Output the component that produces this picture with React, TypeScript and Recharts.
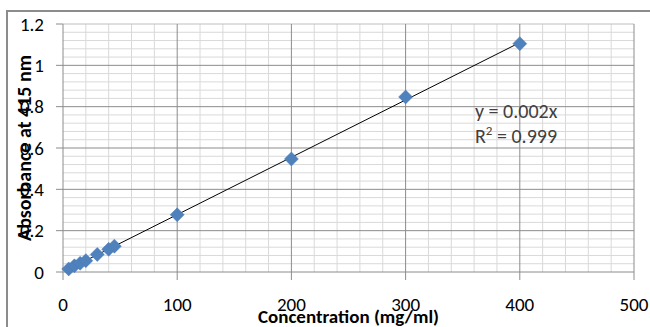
import React from "react";
import {
  ScatterChart,
  Scatter,
  XAxis,
  YAxis,
  ReferenceLine,
} from "recharts";

// calibration points
const concentration = [5, 10, 15, 20, 30, 40, 45, 100, 200, 300, 400];
const absorbance = [0.015, 0.03, 0.042, 0.055, 0.085, 0.11, 0.125, 0.277, 0.547, 0.847, 1.105];

// linear trendline end points
const trendX = [5, 400];
const trendY = [0.014, 1.11];

const xTicks = [0, 100, 200, 300, 400, 500];
const yTicks = [0, 0.2, 0.4, 0.6, 0.8, 1, 1.2];
const xMinor = [20, 40, 60, 80, 120, 140, 160, 180, 220, 240, 260, 280, 320, 340, 360, 380, 420, 440, 460, 480];
const yMinor = [
  0.04, 0.08, 0.12, 0.16, 0.24, 0.28, 0.32, 0.36, 0.44, 0.48, 0.52, 0.56, 0.64, 0.68, 0.72, 0.76,
  0.84, 0.88, 0.92, 0.96, 1.04, 1.08, 1.12, 1.16,
];
const xMajorGrid = [100, 200, 300, 400, 500];
const yMajorGrid = [0.2, 0.4, 0.6, 0.8, 1];

const points = concentration.map((x, i) => ({ x, y: absorbance[i] }));
const trend = trendX.map((x, i) => ({ x, y: trendY[i] }));

const FONT = "Carlito, Calibri, 'Liberation Sans', Arial, sans-serif";
const MINOR = "#d9d9d9";
const MAJOR = "#8c8c8c";

const Diamond = (props: any) => {
  const { cx, cy } = props;
  if (cx == null || cy == null) return null;
  const r = 7;
  return (
    <polygon
      points={`${cx},${cy - r} ${cx + r},${cy} ${cx},${cy + r} ${cx - r},${cy}`}
      fill="#4f81bd"
      stroke="#4a7ab5"
      strokeWidth={0.5}
    />
  );
};

const fmt = (v: number) => String(Math.round(v * 10) / 10);

export default function App() {
  return (
    <div style={{ position: "absolute", left: 0, top: 0, width: 650, height: 327, background: "#fff" }}>
      <div
        style={{
          position: "absolute",
          left: 6,
          top: 10,
          width: 650,
          height: 330,
          borderLeft: `2px solid ${MAJOR}`,
          borderTop: `2px solid ${MAJOR}`,
        }}
      />
      <ScatterChart
        width={650}
        height={327}
        margin={{ top: 24, right: 16, bottom: 0, left: 0 }}
        style={{ position: "absolute", left: 0, top: 0 }}
      >
        <XAxis
          type="number"
          dataKey="x"
          domain={[0, 500]}
          ticks={xTicks}
          interval={0}
          height={55}
          stroke={MAJOR}
          tickSize={8}
          tickMargin={18}
          tick={{ fill: "#000", fontSize: 19, fontFamily: FONT }}
          label={{
            value: "Concentration (mg/ml)",
            position: "insideBottom",
            offset: 4,
            style: { fill: "#000", fontSize: 19, fontWeight: 700, fontFamily: FONT },
          }}
        />
        <YAxis
          type="number"
          dataKey="y"
          domain={[0, 1.2]}
          ticks={yTicks}
          interval={0}
          width={63}
          stroke={MAJOR}
          tickSize={7}
          tickMargin={12}
          tickFormatter={fmt}
          tick={{ fill: "#000", fontSize: 19, fontFamily: FONT }}
          label={{
            value: "Absorbance at 415 nm",
            angle: -90,
            position: "insideLeft",
            offset: 24,
            style: { fill: "#000", fontSize: 20, fontWeight: 700, fontFamily: FONT, textAnchor: "middle" },
          }}
        />
        {xMinor.map((v) => (
          <ReferenceLine key={`xm${v}`} x={v} stroke={MINOR} />
        ))}
        {yMinor.map((v) => (
          <ReferenceLine key={`ym${v}`} y={v} stroke={MINOR} />
        ))}
        <ReferenceLine y={1.2} stroke="#bfbfbf" />
        {xMajorGrid.map((v) => (
          <ReferenceLine key={`xM${v}`} x={v} stroke={MAJOR} />
        ))}
        {yMajorGrid.map((v) => (
          <ReferenceLine key={`yM${v}`} y={v} stroke={MAJOR} />
        ))}
        <Scatter
          data={trend}
          line={{ stroke: "#000", strokeWidth: 1 }}
          shape={() => null}
          isAnimationActive={false}
        />
        <Scatter data={points} shape={<Diamond />} isAnimationActive={false} />
      </ScatterChart>
      <div
        style={{
          position: "absolute",
          left: 475,
          top: 99,
          fontFamily: FONT,
          fontSize: 20,
          lineHeight: "25px",
          color: "#404040",
        }}
      >
        <div>y = 0.002x</div>
        <div>
          R<sup style={{ fontSize: 13, lineHeight: 0 }}>2</sup> = 0.999
        </div>
      </div>
    </div>
  );
}
